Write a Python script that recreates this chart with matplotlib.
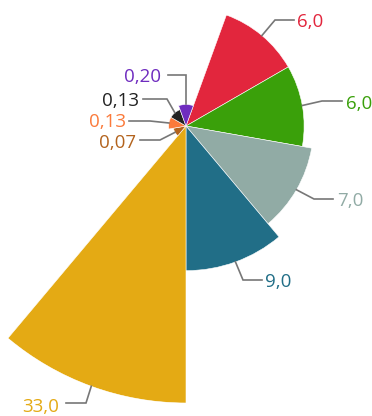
import numpy as np
import matplotlib
matplotlib.use("Agg")
import matplotlib.pyplot as plt

# slice values, clockwise starting at 20 deg from north
values = [6.0, 6.0, 7.0, 9.0, 33.0, 0.07, 0.13, 0.13, 0.20]
labels = ["6,0", "6,0", "7,0", "9,0", "33,0", "0,07", "0,13", "0,13", "0,20"]
colors = ["#e2263d", "#3aa00a", "#91aba5", "#216e87", "#e4aa14",
          "#b3631d", "#fb7a3b", "#222222", "#6f2cbf"]

W, H = 372, 416
fig = plt.figure(figsize=(W/100, H/100), dpi=100)

# polar axes centred at (186,126) px, radius 277 px
cx, cy, R = 186, 126, 277
ax = fig.add_axes([(cx-R)/W, (H-cy-R)/H, 2*R/W, 2*R/H], projection="polar")
ax.set_theta_zero_location("N")
ax.set_theta_direction(-1)
n = len(values)
step = 2*np.pi/n
start = np.deg2rad(20)
theta = start + step*np.arange(n) + step/2
radii = np.sqrt(values)
ax.bar(theta, radii, width=step, bottom=0, color=colors,
       edgecolor="white", linewidth=0.4, align="center")
ax.set_ylim(0, np.sqrt(max(values)))
ax.axis("off")

# overlay in pixel coordinates for connectors and labels
ov = fig.add_axes([0, 0, 1, 1])
ov.set_xlim(0, W); ov.set_ylim(H, 0); ov.axis("off")

# (elbow x, elbow y, end x, label x, baseline y, side)
lay = [
    (275, 20, 294, 297, 26.7, "l"),
    (322, 101, 342, 346, 109.3, "l"),
    (314, 199, 333, 337, 206, "l"),
    (243, 280, 262, 265, 287, "l"),
    (86, 403, 66, 59, 411.7, "r"),
    (160, 140, 140, 136, 148, "r"),
    (150, 121, 129, 126, 126.7, "r"),
    (167, 99, 143, 139, 106, "r"),
    (186, 75, 168, 161, 81.7, "r"),
]
for i, (ex, ey, hx, tx, ty, side) in enumerate(lay):
    dx, dy = ax.transData.transform((theta[i], radii[i]))
    px, py = dx, H - dy
    ov.plot([px, ex, hx], [py, ey, ey], color="#777777", lw=1.2,
            solid_joinstyle="miter")
    ov.text(tx, ty, labels[i], color=colors[i], fontsize=13.5,
            family=["Open Sans", "DejaVu Sans"],
            ha="left" if side == "l" else "right", va="baseline")

fig.savefig("out.png", dpi=100)
